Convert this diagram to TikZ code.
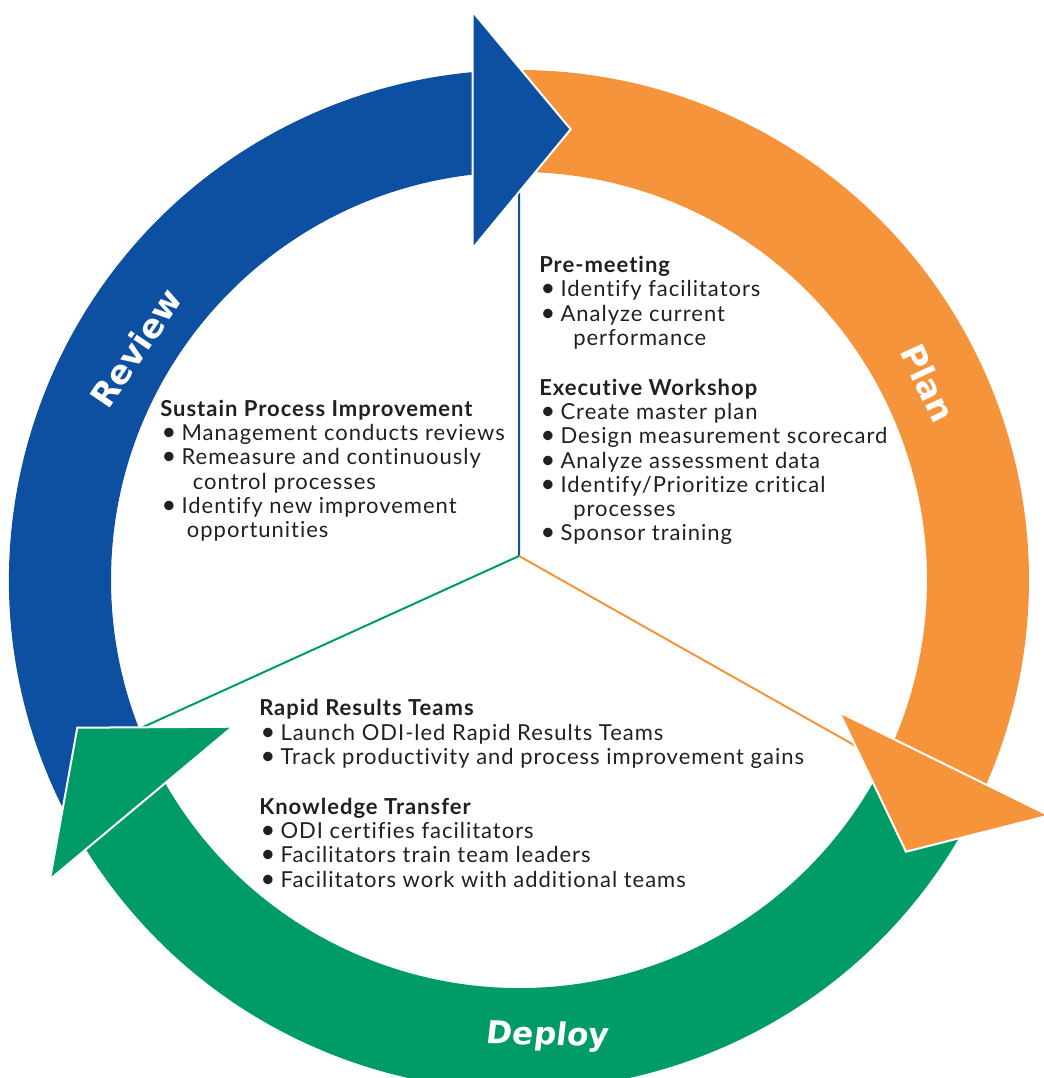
\documentclass[tikz,border=0pt]{standalone}
\usepackage{fontspec}
\setmainfont{Lato}
\newfontfamily\bodyfont{Lato}[LetterSpace=4.5,Ligatures=NoCommon]
\newfontfamily\labelfont{DejaVu Sans}
\usetikzlibrary{calc}

\definecolor{cycleblue}{RGB}{13,79,160}
\definecolor{cycleorange}{RGB}{245,148,58}
\definecolor{cyclegreen}{RGB}{0,155,103}
\definecolor{inktext}{RGB}{35,31,32}

% bullet with its gap, and the indent of a wrapped bullet line
\newcommand{\blt}{\hspace*{1pt}\makebox[15pt][l]{\fontsize{19}{18.2}\selectfont\textbullet}}
\newcommand{\wrapind}[1]{\hspace*{#1}}

\begin{document}
\begin{tikzpicture}[x=0.75pt,y=-0.75pt,
  head/.style={draw=white,line width=1.5pt,line join=miter},
  divider/.style={line width=1.5pt},
  phase/.style={font=\labelfont\bfseries\fontsize{25}{25}\selectfont,text=white,inner sep=0pt},
  block/.style={anchor=north west,inner sep=0pt,align=left,text=inktext,
    font=\bodyfont\fontsize{16.5}{18.2}\selectfont}
]
\useasboundingbox (0,0) rectangle (1044,1078);
\clip (0,0) rectangle (1044,1078);

% centre of the ring and its radii
\coordinate (C) at (519,580);
\def\ro{510}
\def\ri{408}

% the three coloured bands of the ring
\fill[cycleblue] ($(C)+(152:\ro)$) arc[start angle=152,end angle=270,radius=\ro]
  -- ($(C)+(270:\ri)$) arc[start angle=270,end angle=152,radius=\ri] -- cycle;
\fill[cycleorange] ($(C)+(270:\ro)$) arc[start angle=270,end angle=385,radius=\ro]
  -- ($(C)+(385:\ri)$) arc[start angle=385,end angle=270,radius=\ri] -- cycle;
\fill[cyclegreen] ($(C)+(25:\ro)$) arc[start angle=25,end angle=152,radius=\ro]
  -- ($(C)+(152:\ri)$) arc[start angle=152,end angle=25,radius=\ri] -- cycle;

% arrowhead corners
\coordinate (B1) at (472.7,11.7);
\coordinate (Btip) at (570.7,129.3);
\coordinate (B3) at (472.7,248.3);
\coordinate (O1) at (839.3,712.3);
\coordinate (Otip) at (906,851.7);
\coordinate (O3) at (1049,815.5);
\coordinate (G1) at (232.7,726.7);
\coordinate (Gtip) at (77.3,727.7);
\coordinate (G3) at (50,879.3);

% dividers from the hub to each arrowhead
\coordinate (J) at (519,556);
\coordinate (Bend) at ($(B3)!0.4724!(Btip)$);
\coordinate (Oend) at ($(O1)!0.24!(Otip)$);
\coordinate (Gend) at ($(Gtip)!0.42!(G1)$);
\draw[divider,cycleblue] (J) -- (Bend);
\draw[divider,cycleorange] (J) -- (Oend);
\draw[divider,cyclegreen] (J) -- (Gend);

% arrowheads
\filldraw[head,fill=cycleblue] (B1) -- (Btip) -- (B3) -- cycle;
\filldraw[head,fill=cycleorange] (O1) -- (Otip) -- (O3) -- cycle;
\filldraw[head,fill=cyclegreen] (G1) -- (Gtip) -- (G3) -- cycle;

% phase names
\node[phase,rotate=56] (review) at (136,348) {Review};
\node[phase,rotate=-65] (plan) at (928,383) {Plan};
\node[phase,font=\labelfont\bfseries\fontsize{23.5}{23.5}\selectfont,
  anchor=base,xslant=0.1,rotate=-1] (deploy) at (547,1045) {Deploy};

% activities
\node[block] (sustain) at (160,399) {\strut\textbf{Sustain Process Improvement}\\
  \blt Management conducts reviews\\
  \blt Remeasure and continuously\\
  \wrapind{24.5pt}control processes\\
  \blt Identify new improvement\\
  \wrapind{20pt}opportunities};

\node[block] (premeet) at (539,255.3) {\strut\textbf{Pre-meeting}\\
  \blt Identify facilitators\\
  \blt Analyze current\\
  \wrapind{25.5pt}performance};

\node[block] (workshop) at (539,378) {\strut\textbf{Executive Workshop}\\
  \blt Create master plan\\
  \blt Design measurement scorecard\\
  \blt Analyze assessment data\\
  \blt Identify/Prioritize critical\\
  \wrapind{25.5pt}processes\\
  \blt Sponsor training};

\node[block] (rapid) at (259,698.5) {\strut\textbf{Rapid Results Teams}\\
  \blt Launch ODI-led Rapid Results Teams\\
  \blt Track productivity and process improvement gains};

\node[block] (transfer) at (259,797) {\strut\textbf{Knowledge Transfer}\\
  \blt ODI certifies facilitators\\
  \blt Facilitators train team leaders\\
  \blt Facilitators work with additional teams};
\end{tikzpicture}
\end{document}
